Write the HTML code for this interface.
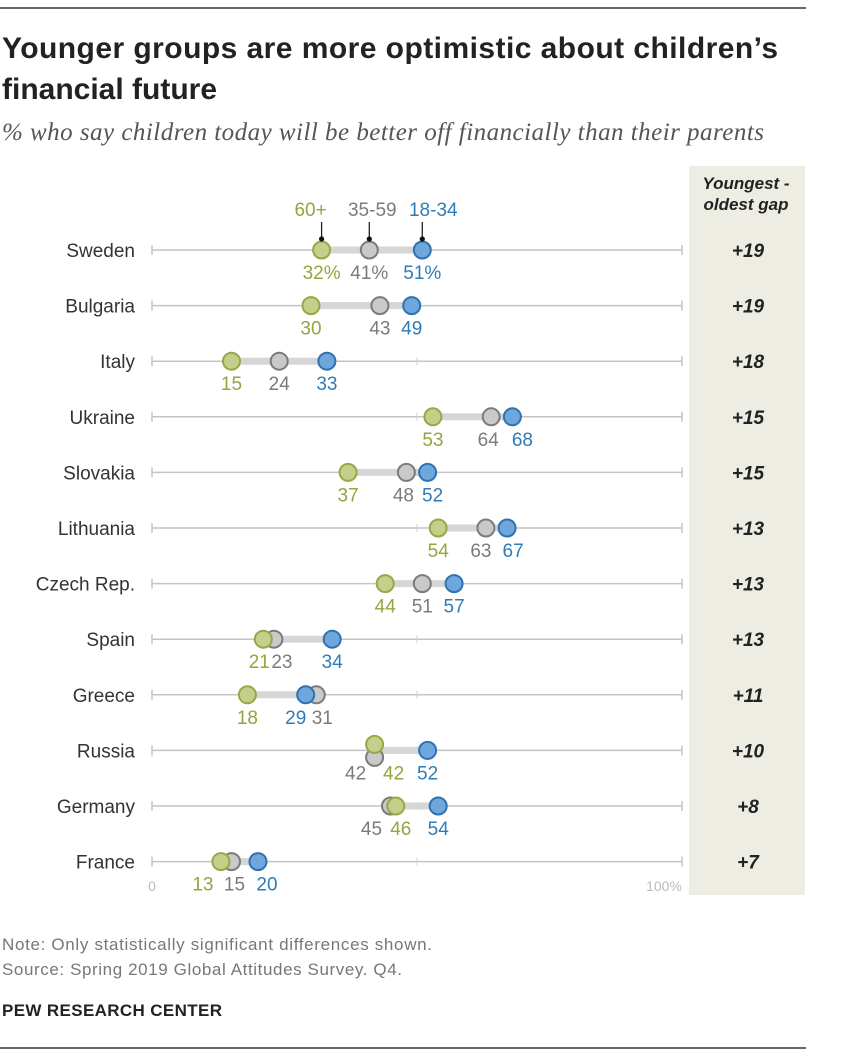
<!DOCTYPE html>
<html><head><meta charset="utf-8">
<style>
body{margin:0;background:#fff;font-family:"Liberation Sans",sans-serif;}
.wrap{position:relative;width:844px;height:1062px;overflow:hidden;}
</style></head>
<body><div class="wrap">
<svg width="844" height="1062" style="position:absolute;left:0;top:0">
<line x1="0" y1="8" x2="806" y2="8" stroke="#333" stroke-width="1.5"/>
<text x="2" y="58" font-size="30" font-weight="bold" fill="#222" textLength="776">Younger groups are more optimistic about children’s</text>
<text x="2" y="99" font-size="30" font-weight="bold" fill="#222">financial future</text>
<text x="2" y="140" font-size="25" font-style="italic" fill="#555" font-family="Liberation Serif,serif" textLength="762">% who say children today will be better off financially than their parents</text>
<rect x="689" y="166" width="116" height="729" fill="#eeede4"/>
<text x="746" y="189" font-size="17" font-weight="bold" font-style="italic" text-anchor="middle" fill="#222">Youngest -</text>
<text x="746" y="210" font-size="17" font-weight="bold" font-style="italic" text-anchor="middle" fill="#222">oldest gap</text>
<g id="plot"></g>
<text x="2" y="950" font-size="17" fill="#777" textLength="430">Note: Only statistically significant differences shown.</text>
<text x="2" y="975" font-size="17" fill="#777" textLength="400">Source: Spring 2019 Global Attitudes Survey. Q4.</text>
<text x="2" y="1016" font-size="17" font-weight="bold" fill="#222" textLength="220">PEW RESEARCH CENTER</text>
<line x1="0" y1="1048" x2="806" y2="1048" stroke="#333" stroke-width="1.5"/>
</svg>
</div>
<script>
const countries=["Sweden","Bulgaria","Italy","Ukraine","Slovakia","Lithuania","Czech Rep.","Spain","Greece","Russia","Germany","France"];
const old60=[32,30,15,53,37,54,44,21,18,42,46,13];
const mid3559=[41,43,24,64,48,63,51,23,31,42,45,15];
const young1834=[51,49,33,68,52,67,57,34,29,52,54,20];
const gaps=["+19","+19","+18","+15","+15","+13","+13","+13","+11","+10","+8","+7"];
const nudgeOld=[0,0,0,0,0,0,0,-4,0,19,5,-18];
const nudgeMid=[0,0,0,-3,-3,-5,0,8,6,-19,-19,3];
const nudgeYoung=[0,0,0,10,5,6,0,0,-10,0,0,9];
const liftOld=[0,0,0,0,0,0,0,0,0,-6,0,0];
const liftMid=[0,0,0,0,0,0,0,0,0,7,0,0];
const legendNudge=[-11,3,11];
const NS="http://www.w3.org/2000/svg";
const x=v=>152+v*5.3;
const y=i=>250+i*55.6;
const g=document.getElementById('plot');
function mk(t,a,txt){const e=document.createElementNS(NS,t);for(const k in a)e.setAttribute(k,a[k]);if(txt!=null)e.textContent=txt;g.appendChild(e);return e;}
const C={o:["#c3cf8b","#97a846","#97a33f"],m:["#c9c9c9","#7b7b7b","#7b7b7b"],y:["#6fa7dc","#2e72b0","#2e7cb8"]};
countries.forEach((c,i)=>{
 const yy=y(i);
 let e=mk('line',{x1:x(0),y1:yy,x2:x(100),y2:yy,stroke:'#c4c4c4','stroke-width':1.5});
 
 e=mk('line',{x1:x(0),y1:yy-5,x2:x(0),y2:yy+5,stroke:'#c4c4c4','stroke-width':1.5});
 
 e=mk('line',{x1:x(50),y1:yy-4,x2:x(50),y2:yy+4,stroke:'#d0d0d0','stroke-width':1});
 
 e=mk('line',{x1:x(100),y1:yy-5,x2:x(100),y2:yy+5,stroke:'#c4c4c4','stroke-width':1.5});
 
 const vals=[old60[i],mid3559[i],young1834[i]];
 const lo=Math.min(...vals),hi=Math.max(...vals);
 e=mk('line',{x1:x(lo),y1:yy,x2:x(hi),y2:yy,stroke:'#d6d6d6','stroke-width':7});
 
 e=mk('text',{x:135,y:yy+7,'font-size':19,'text-anchor':'end',fill:'#333'},c);
 
 e=mk('text',{x:748,y:yy+7,'font-size':19,'font-weight':'bold','font-style':'italic','text-anchor':'middle',fill:'#222'},gaps[i]);
 
 const sets=[["m",mid3559[i],nudgeMid[i],liftMid[i]],["o",old60[i],nudgeOld[i],liftOld[i]],["y",young1834[i],nudgeYoung[i],0]];
 sets.forEach(([k,v,n,l])=>{
  e=mk('circle',{cx:x(v),cy:yy+l,r:8.5,fill:C[k][0],stroke:C[k][1],'stroke-width':2});
  
  e=mk('text',{x:x(v)+n,y:yy+29,'font-size':19,'text-anchor':'middle',fill:C[k][2]},v+(i==0?'%':''));
  
 });
 if(i==0){
  const lab=[["60+",old60[0],"o"],["35-59",mid3559[0],"m"],["18-34",young1834[0],"y"]];
  lab.forEach(([t,v,k],j)=>{
   e=mk('text',{x:x(v)+legendNudge[j],y:yy-34,'font-size':19,'text-anchor':'middle',fill:C[k][2]},t);
   
   e=mk('line',{x1:x(v),y1:yy-28,x2:x(v),y2:yy-12,stroke:'#222','stroke-width':1.3});
   
   e=mk('circle',{cx:x(v),cy:yy-11,r:2.6,fill:'#111'});
   
  });
 }
});
let t=mk('text',{x:x(0),y:891,'font-size':14,'text-anchor':'middle',fill:'#bbb'},'0');

t=mk('text',{x:x(100)-18,y:891,'font-size':14,'text-anchor':'middle',fill:'#bbb'},'100%');

</script>
</body></html>
